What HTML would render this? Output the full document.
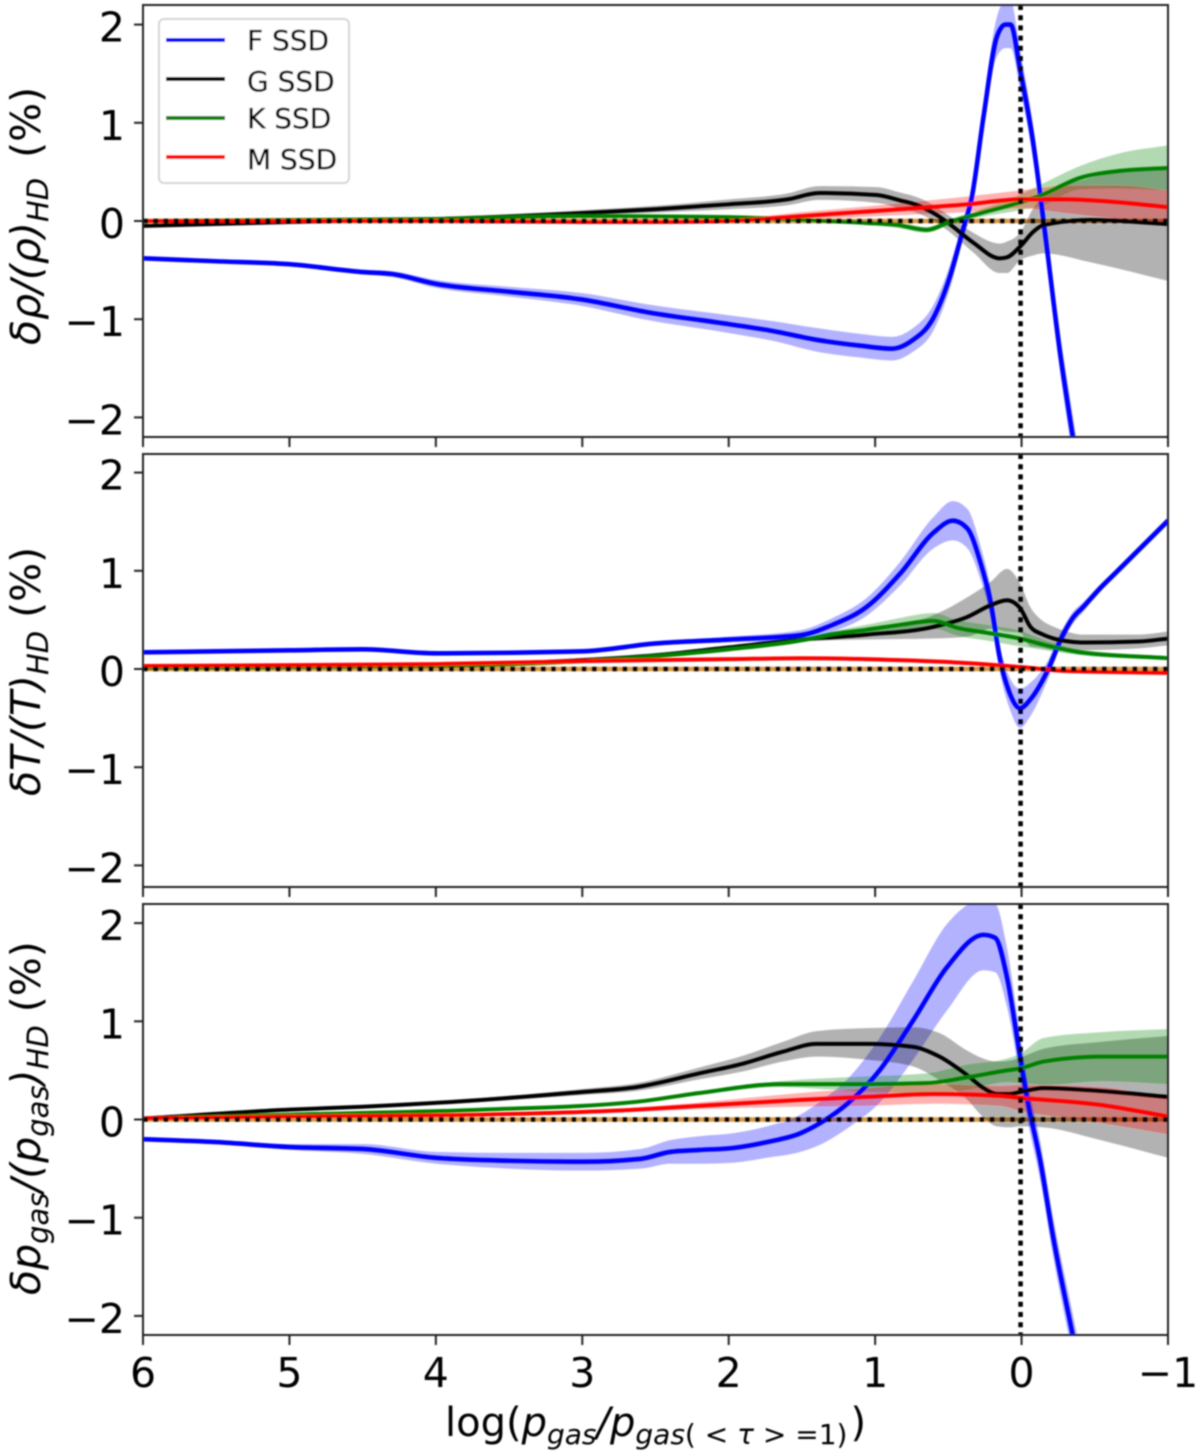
<!DOCTYPE html>
<html lang="en">
<head>
<meta charset="utf-8">
<title>SSD vs HD relative differences</title>
<style>
html,body{margin:0;padding:0;background:#fff;width:1200px;height:1452px;overflow:hidden}
svg{display:block}
text{font-family:"DejaVu Sans","Liberation Sans",sans-serif;fill:#000}
</style>
</head>
<body>
<svg id="chart" xmlns="http://www.w3.org/2000/svg" width="1200" height="1452" viewBox="0 0 1200 1452">
  <defs>
    <filter id="soft" x="-2%" y="-2%" width="104%" height="104%"><feGaussianBlur stdDeviation="0.85"/></filter>
    <clipPath id="clip-rho"><rect x="143" y="5" width="1025" height="432"/></clipPath>
    <clipPath id="clip-temp"><rect x="143" y="454" width="1025" height="433"/></clipPath>
    <clipPath id="clip-pgas"><rect x="143" y="904" width="1025" height="431"/></clipPath>
  </defs>
  <g id="root" filter="url(#soft)"></g>
</svg>
<script>
// Axis tick values
const xTicks = [6, 5, 4, 3, 2, 1, 0, -1];
const xTickLabels = ['6', '5', '4', '3', '2', '1', '0', '\u22121'];
const yTicks = [2, 1, 0, -1, -2];
const yTickLabels = ['2', '1', '0', '\u22121', '\u22122'];
const seriesNames = ['F SSD', 'G SSD', 'K SSD', 'M SSD'];

// Panel 1: density
const rhoFx = [6, 5.5, 5, 4.5, 4.3, 4, 3.5, 3, 2.55, 2, 1.7, 1.4, 1.1, 0.885, 0.75, 0.6, 0.49, 0.4, 0.34, 0.26, 0.17, 0.11, 0.075, 0.01, -0.08, -0.16, -0.26, -0.35, -0.45];
const rhoF = [-0.38, -0.41, -0.44, -0.52, -0.54, -0.64, -0.72, -0.80, -0.93, -1.05, -1.12, -1.21, -1.27, -1.30, -1.22, -0.98, -0.57, -0.09, 0.24, 1.06, 1.87, 2.0, 2.0, 1.54, 0.79, -0.12, -1.31, -2.2, -3.15];
const rhoFerr = [0.01, 0.015, 0.02, 0.025, 0.03, 0.04, 0.05, 0.065, 0.08, 0.09, 0.1, 0.12, 0.12, 0.12, 0.12, 0.13, 0.12, 0.1, 0.12, 0.15, 0.2, 0.24, 0.24, 0.2, 0.18, 0.18, 0.2, 0.22, 0.24];
const rhoGx = [6, 5, 4, 3, 2.5, 2, 1.6, 1.38, 0.99, 0.83, 0.71, 0.6, 0.51, 0.33, 0.15, 0.1, 0.01, -0.08, -0.15, -0.47, -1];
const rhoG = [-0.05, -0.01, 0.02, 0.08, 0.12, 0.17, 0.22, 0.285, 0.265, 0.21, 0.16, 0.08, -0.01, -0.22, -0.38, -0.37, -0.26, -0.11, -0.04, 0.01, -0.03];
const rhoGerr = [0.005, 0.01, 0.015, 0.03, 0.035, 0.05, 0.06, 0.07, 0.08, 0.08, 0.08, 0.08, 0.08, 0.1, 0.15, 0.16, 0.14, 0.24, 0.29, 0.43, 0.58];
const rhoKx = [6, 5, 4, 3, 2, 1.5, 1.06, 0.85, 0.65, 0.49, 0.28, 0.01, -0.13, -0.4, -0.67, -1];
const rhoK = [0.0, 0.01, 0.02, 0.05, 0.04, 0.01, -0.02, -0.04, -0.09, -0.01, 0.08, 0.19, 0.26, 0.44, 0.51, 0.54];
const rhoKerr = [0.005, 0.005, 0.01, 0.01, 0.015, 0.02, 0.02, 0.03, 0.03, 0.03, 0.04, 0.08, 0.11, 0.12, 0.18, 0.23];
const rhoMx = [6, 5, 4, 3, 2.5, 2, 1.5, 0.83, 0.37, 0.01, -0.31, -0.67, -1];
const rhoM = [0.0, 0.0, 0.0, -0.01, -0.01, 0.0, 0.05, 0.12, 0.17, 0.22, 0.22, 0.19, 0.14];
const rhoMerr = [0.005, 0.005, 0.005, 0.01, 0.01, 0.02, 0.04, 0.06, 0.08, 0.09, 0.14, 0.17, 0.17];

// Panel 2: temperature
const tempFx = [6, 5, 4.5, 4, 3, 2.5, 2, 1.51, 1.29, 1.06, 0.83, 0.6, 0.47, 0.37, 0.28, 0.21, 0.15, 0.08, 0.01, -0.06, -0.17, -0.28, -0.35, -0.42, -0.535, -0.65, -1];
const tempF = [0.17, 0.19, 0.2, 0.16, 0.18, 0.26, 0.3, 0.345, 0.45, 0.63, 0.97, 1.39, 1.51, 1.43, 1.08, 0.67, 0.12, -0.25, -0.40, -0.31, -0.04, 0.34, 0.52, 0.63, 0.82, 0.99, 1.51];
const tempFerr = [0.01, 0.01, 0.01, 0.01, 0.015, 0.02, 0.03, 0.05, 0.07, 0.09, 0.12, 0.16, 0.2, 0.2, 0.17, 0.15, 0.14, 0.16, 0.2, 0.17, 0.1, 0.07, 0.06, 0.05, 0.04, 0.04, 0.04];
const tempGx = [6, 4, 3, 2.5, 2, 1.51, 1.06, 0.6, 0.37, 0.21, 0.1, 0.01, -0.06, -0.14, -0.22, -0.3, -0.42, -0.8, -1];
const tempG = [0.02, 0.04, 0.09, 0.14, 0.22, 0.30, 0.35, 0.43, 0.53, 0.65, 0.70, 0.62, 0.43, 0.355, 0.31, 0.285, 0.27, 0.28, 0.31];
const tempGerr = [0.005, 0.005, 0.01, 0.015, 0.02, 0.02, 0.05, 0.12, 0.2, 0.24, 0.32, 0.25, 0.2, 0.14, 0.12, 0.1, 0.08, 0.07, 0.07];
const tempKx = [6, 4, 3, 2.5, 2, 1.51, 1.29, 1.06, 0.83, 0.6, 0.44, 0.24, 0.01, -0.17, -0.4, -1];
const tempK = [0.01, 0.03, 0.08, 0.13, 0.2, 0.29, 0.355, 0.40, 0.45, 0.49, 0.42, 0.37, 0.31, 0.24, 0.17, 0.11];
const tempKerr = [0.005, 0.005, 0.01, 0.01, 0.015, 0.02, 0.03, 0.05, 0.07, 0.08, 0.08, 0.08, 0.08, 0.05, 0.03, 0.02];
const tempMx = [6, 4, 3, 2, 1.51, 0.83, 0.37, 0.01, -0.31, -1];
const tempM = [0.03, 0.05, 0.08, 0.1, 0.11, 0.09, 0.06, 0.02, -0.02, -0.04];
const tempMerr = [0.005, 0.005, 0.005, 0.01, 0.01, 0.01, 0.01, 0.01, 0.01, 0.01];

// Panel 3: gas pressure
const pgasFx = [6, 5.5, 5, 4.5, 4, 3.5, 3, 2.6, 2.4, 2.2, 1.97, 1.74, 1.51, 1.38, 1.19, 0.97, 0.74, 0.51, 0.26, 0.18, 0.1, 0.01, -0.04, -0.13, -0.21, -0.35, -0.45];
const pgasF = [-0.2, -0.23, -0.28, -0.3, -0.39, -0.42, -0.43, -0.40, -0.33, -0.31, -0.29, -0.23, -0.14, -0.04, 0.16, 0.5, 1.01, 1.55, 1.88, 1.85, 1.45, 0.64, 0.2, -0.44, -1.15, -2.2, -2.95];
const pgasFerr = [0.01, 0.02, 0.03, 0.05, 0.06, 0.08, 0.09, 0.1, 0.12, 0.14, 0.15, 0.16, 0.19, 0.22, 0.25, 0.33, 0.4, 0.44, 0.36, 0.35, 0.3, 0.22, 0.2, 0.2, 0.2, 0.22, 0.24];
const pgasGx = [6, 5, 4.5, 3.68, 3, 2.63, 2.2, 1.9, 1.63, 1.4, 1.06, 0.74, 0.56, 0.37, 0.26, 0.17, 0.08, 0.01, -0.15, -0.54, -1];
const pgasG = [0.01, 0.1, 0.13, 0.2, 0.28, 0.33, 0.47, 0.57, 0.69, 0.77, 0.77, 0.74, 0.64, 0.45, 0.32, 0.26, 0.26, 0.28, 0.32, 0.29, 0.23];
const pgasGerr = [0.005, 0.01, 0.015, 0.02, 0.03, 0.04, 0.06, 0.08, 0.1, 0.13, 0.16, 0.2, 0.24, 0.25, 0.3, 0.33, 0.34, 0.35, 0.4, 0.5, 0.62];
const pgasKx = [6, 4.99, 3.68, 2.63, 2.2, 1.65, 1.06, 0.65, 0.37, 0.1, 0.01, -0.15, -0.55, -1];
const pgasK = [0.01, 0.05, 0.1, 0.18, 0.27, 0.36, 0.36, 0.37, 0.43, 0.5, 0.52, 0.59, 0.64, 0.64];
const pgasKerr = [0.005, 0.005, 0.01, 0.015, 0.02, 0.03, 0.08, 0.1, 0.13, 0.12, 0.15, 0.24, 0.25, 0.28];
const pgasMx = [6, 5, 3.68, 2.63, 2.3, 1.51, 1.06, 0.6, 0.15, 0.01, -0.53, -1];
const pgasM = [0.01, 0.03, 0.05, 0.1, 0.13, 0.2, 0.23, 0.26, 0.24, 0.22, 0.15, 0.03];
const pgasMerr = [0.005, 0.005, 0.01, 0.02, 0.03, 0.07, 0.09, 0.1, 0.1, 0.13, 0.18, 0.18];

const SVGNS = 'http://www.w3.org/2000/svg';
const root = document.getElementById('root');
const colors = ['#0000ff', '#000000', '#008000', '#ff0000'];
const axisLeft = 143, axisRight = 1168;
const xScale = v => axisLeft + (6 - v) * (axisRight - axisLeft) / 7;

function node(tag, attrs, parent) {
  const el = document.createElementNS(SVGNS, tag);
  for (const k in attrs) el.setAttribute(k, attrs[k]);
  (parent || root).appendChild(el);
  return el;
}

// Monotone cubic Bezier segments through the points (already in pixel space)
function segments(px, py) {
  const n = px.length, m = new Array(n);
  for (let i = 1; i < n - 1; i++) {
    const h0 = px[i] - px[i - 1], h1 = px[i + 1] - px[i];
    const s0 = (py[i] - py[i - 1]) / h0, s1 = (py[i + 1] - py[i]) / h1;
    const p = (s0 * h1 + s1 * h0) / (h0 + h1);
    m[i] = (Math.sign(s0) + Math.sign(s1)) * Math.min(Math.abs(s0), Math.abs(s1), 0.5 * Math.abs(p));
  }
  m[0] = (py[1] - py[0]) / (px[1] - px[0]);
  m[n - 1] = (py[n - 1] - py[n - 2]) / (px[n - 1] - px[n - 2]);
  let d = '';
  for (let i = 0; i < n - 1; i++) {
    const h = (px[i + 1] - px[i]) / 3;
    d += 'C' + (px[i] + h).toFixed(2) + ' ' + (py[i] + m[i] * h).toFixed(2) + ' ' +
         (px[i + 1] - h).toFixed(2) + ' ' + (py[i + 1] - m[i + 1] * h).toFixed(2) + ' ' +
         px[i + 1].toFixed(2) + ' ' + py[i + 1].toFixed(2);
  }
  return d;
}

function drawPanel(cfg) {
  const yScale = v => cfg.zero - v * 98.2;
  const g = node('g', {});
  
  

  const plot = node('g', { 'clip-path': 'url(#' + cfg.clip + ')' }, g);
  
  

  const refLine = node('line', { x1: axisLeft, x2: axisRight, y1: yScale(0), y2: yScale(0), stroke: '#d99a4a', 'stroke-width': 4.5 }, plot);
  
  

  cfg.series.forEach((s, i) => {
    const xs = s[0].map(xScale);
    const up = s[1].map((v, k) => yScale(v + s[2][k]));
    const lo = s[1].map((v, k) => yScale(v - s[2][k]));
    const band = node('path', {
      d: 'M' + xs[0].toFixed(2) + ' ' + up[0].toFixed(2) + segments(xs, up) +
         'L' + xs[xs.length - 1].toFixed(2) + ' ' + lo[lo.length - 1].toFixed(2) +
         segments(xs.slice().reverse(), lo.slice().reverse()) + 'Z',
      fill: colors[i], 'fill-opacity': 0.3, stroke: 'none'
    }, plot);
    
    
  });
  cfg.series.forEach((s, i) => {
    const xs = s[0].map(xScale);
    const ys = s[1].map(yScale);
    const line = node('path', {
      d: 'M' + xs[0].toFixed(2) + ' ' + ys[0].toFixed(2) + segments(xs, ys),
      fill: 'none', stroke: colors[i], 'stroke-width': i === 0 ? 4.6 : 4
    }, plot);
    
    
  });

  const hDots = node('line', { x1: axisLeft, x2: axisRight, y1: yScale(0), y2: yScale(0), stroke: '#000', 'stroke-width': 4.5, 'stroke-dasharray': '5 5.2' }, plot);
  
  
  const vDots = node('line', { x1: xScale(0) - 1, x2: xScale(0) - 1, y1: cfg.top, y2: cfg.bottom, stroke: '#000', 'stroke-width': 4.5, 'stroke-dasharray': '5 5.2' }, plot);
  
  

  const frame = node('rect', { x: axisLeft, y: cfg.top, width: axisRight - axisLeft, height: cfg.bottom - cfg.top, fill: 'none', stroke: '#222', 'stroke-width': 2 }, g);
  
  

  yTicks.forEach((v, i) => {
    const y = yScale(v);
    const tick = node('line', { x1: axisLeft - 9, x2: axisLeft, y1: y, y2: y, stroke: '#222', 'stroke-width': 2 }, g);
    
    
    const label = node('text', { x: 125, y: y + 17, 'text-anchor': 'end', 'font-size': 41 }, g);
    label.textContent = yTickLabels[i];
    
    
  });
  xTicks.forEach((v, i) => {
    const x = xScale(v);
    const tick = node('line', { x1: x, x2: x, y1: cfg.bottom, y2: cfg.bottom + 10, stroke: '#222', 'stroke-width': 2 }, g);
    
    
    if (cfg.xLabels) {
      const label = node('text', { x: x, y: 1387, 'text-anchor': 'middle', 'font-size': 41 }, g);
      label.textContent = xTickLabels[i];
      
      
    }
  });
}

drawPanel({
  name: 'density', clip: 'clip-rho', top: 5, bottom: 437, zero: 221, xLabels: false,
  series: [[rhoFx, rhoF, rhoFerr], [rhoGx, rhoG, rhoGerr], [rhoKx, rhoK, rhoKerr], [rhoMx, rhoM, rhoMerr]]
});
drawPanel({
  name: 'temperature', clip: 'clip-temp', top: 454, bottom: 887, zero: 669, xLabels: false,
  series: [[tempFx, tempF, tempFerr], [tempGx, tempG, tempGerr], [tempKx, tempK, tempKerr], [tempMx, tempM, tempMerr]]
});
drawPanel({
  name: 'gas-pressure', clip: 'clip-pgas', top: 904, bottom: 1335, zero: 1119.5, xLabels: true,
  series: [[pgasFx, pgasF, pgasFerr], [pgasGx, pgasG, pgasGerr], [pgasKx, pgasK, pgasKerr], [pgasMx, pgasM, pgasMerr]]
});

// Legend
const legend = node('g', {});


const legendBox = node('rect', { x: 159, y: 19, width: 190, height: 164, rx: 5, fill: '#fff', 'fill-opacity': 0.9, stroke: '#d5d5d5', 'stroke-width': 2 }, legend);


const legendRow = i => 40 + i * 39;
seriesNames.forEach((name, i) => {
  const y = legendRow(i);
  const swatch = node('line', { x1: 166, x2: 225, y1: y, y2: y, stroke: colors[i], 'stroke-width': 4 }, legend);
  
  
  const label = node('text', { x: 247, y: y + (i % 2 ? 12 : 10), 'font-size': 28, stroke: '#000', 'stroke-width': 0.35 }, legend);
  label.textContent = name;
  
  
});
</script>
<svg style="position:absolute;left:0;top:0;pointer-events:none" width="1200" height="1452" viewBox="0 0 1200 1452" xmlns="http://www.w3.org/2000/svg">
  <g filter="url(#soft)">
    <text transform="translate(40,345) rotate(-90)" font-size="41" font-style="italic">δρ/(ρ)<tspan font-size="29" dy="8">HD</tspan><tspan dy="-8" dx="7" font-style="normal"> (%)</tspan></text>
    <text transform="translate(40,796) rotate(-90)" font-size="41" font-style="italic">δT/(T)<tspan font-size="29" dy="8">HD</tspan><tspan dy="-8" font-style="normal"> (%)</tspan></text>
    <text transform="translate(40,1295) rotate(-90)" font-size="41" font-style="italic">δp<tspan font-size="29" dy="8">gas</tspan><tspan dy="-8">/(p</tspan><tspan font-size="29" dy="8">gas</tspan><tspan dy="-8">)</tspan><tspan font-size="29" dy="8">HD</tspan><tspan dy="-8" font-style="normal"> (%)</tspan></text>
    <text x="445" y="1436" font-size="40">log(<tspan font-style="italic">p</tspan><tspan font-size="28" font-style="italic" dy="8">gas</tspan><tspan dy="-8" font-style="italic">/p</tspan><tspan font-size="28" font-style="italic" dy="8">gas</tspan><tspan font-size="28" dy="0">( &lt; </tspan><tspan font-size="28" font-style="italic">τ</tspan><tspan font-size="28"> &gt; =1)</tspan><tspan dy="-8" dx="3">)</tspan></text>
  </g>
</svg>
</body>
</html>
